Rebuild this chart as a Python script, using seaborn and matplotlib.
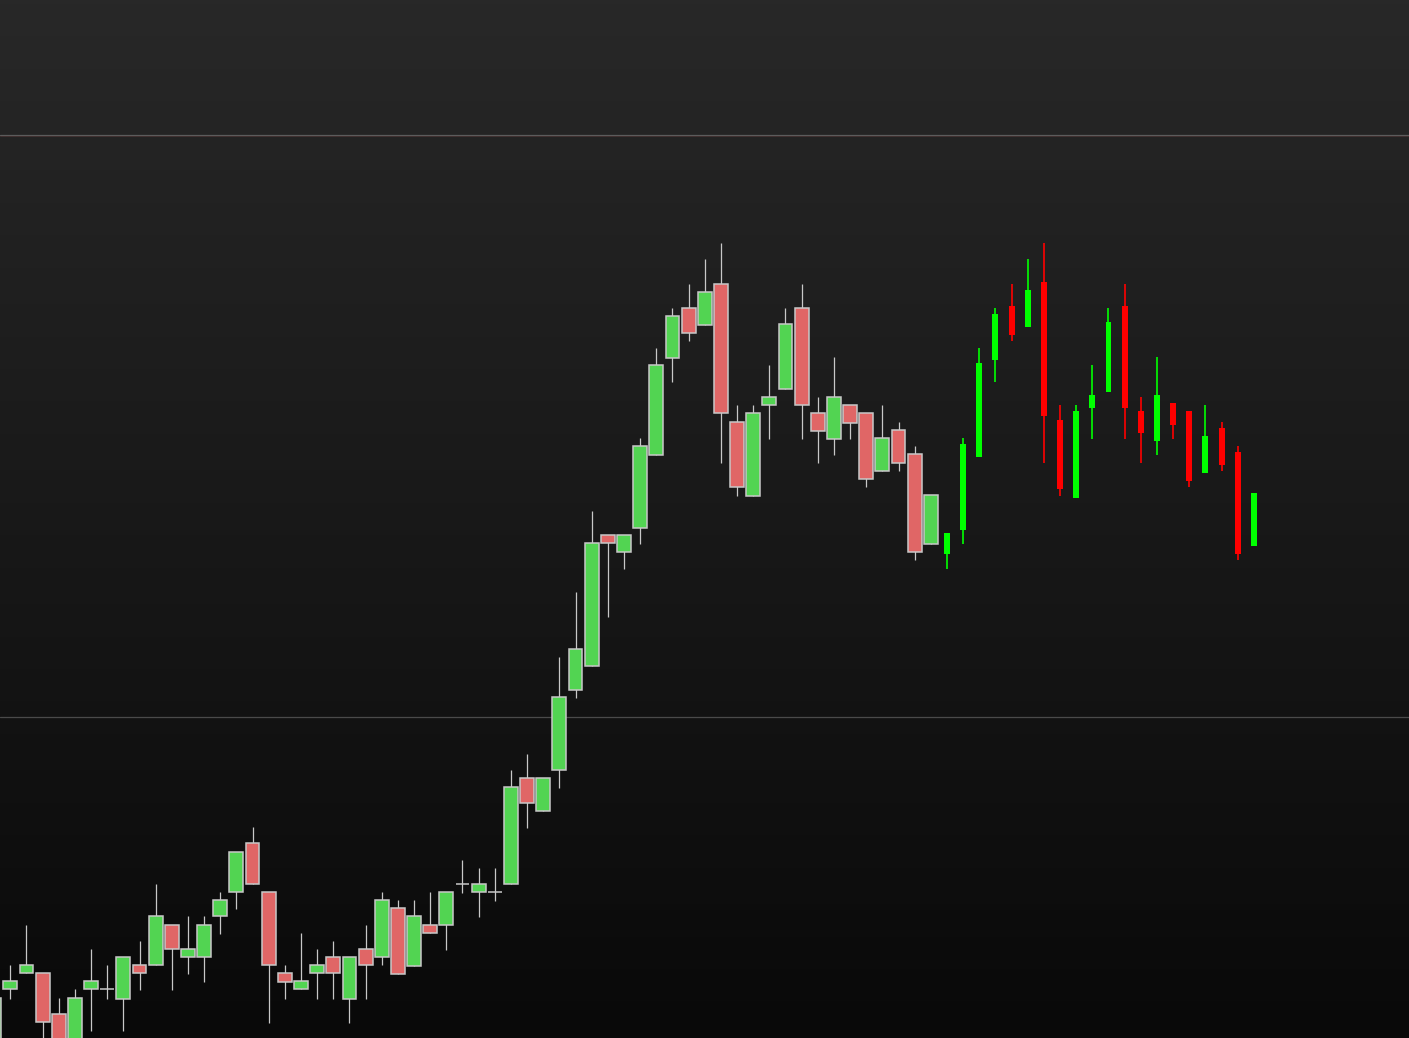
import numpy as np
import pandas as pd
import matplotlib
matplotlib.use("Agg")
import matplotlib.pyplot as plt
import seaborn as sns

# --- Datos (precio en unidades arbitrarias) ---
# velas "históricas" (colores apagados con borde gris)
abre_hist = [-7, 49, 65, 65, 24, -7, 49, 49, 39, 73, 73, 113, 81, 81, 122, 146, 195, 146, 65, 49,
             65, 81, 39, 89, 81, 130, 72, 113, 113, 154, 146, 146, 154, 260, 227, 268, 348, 372, 503, 486,
             510, 583, 680, 730, 713, 754, 616, 542, 633, 649, 730, 625, 599, 633, 625, 567, 608, 584, 494]
alto_hist = [40, 73, 113, 65, 40, 49, 89, 73, 81, 97, 154, 113, 122, 122, 146, 186, 211, 146, 73, 105,
             89, 97, 81, 113, 146, 138, 138, 146, 146, 178, 170, 170, 268, 284, 260, 381, 446, 527, 503, 503,
             600, 690, 730, 754, 779, 795, 633, 633, 673, 730, 754, 641, 681, 633, 625, 633, 616, 592, 543]
bajo_hist = [-12, 39, 65, -7, -12, -12, 7, 39, 7, 48, 73, 48, 64, 56, 104, 129, 154, 15, 39, 49,
             39, 39, 15, 39, 73, 64, 72, 105, 88, 145, 121, 137, 154, 210, 227, 250, 340, 372, 421, 469,
             494, 583, 656, 697, 713, 575, 542, 542, 599, 649, 599, 575, 583, 599, 551, 567, 567, 478, 494]
cierre_hist = [40, 57, 73, 16, -7, 40, 57, 49, 81, 65, 122, 89, 89, 113, 138, 186, 154, 73, 56, 57,
               73, 65, 81, 73, 138, 64, 122, 105, 146, 154, 154, 146, 251, 235, 260, 341, 389, 495, 495, 503,
               592, 673, 722, 705, 746, 625, 551, 625, 641, 714, 633, 607, 641, 615, 559, 600, 575, 486, 543]

# velas "recientes" (colores vivos, más finas)
abre_rec = [484, 508, 581, 678, 732, 711, 756, 618, 540, 630, 646, 732, 627, 597, 635, 627, 565, 610, 586, 492]
alto_rec = [505, 600, 690, 730, 754, 779, 795, 633, 633, 673, 730, 754, 641, 681, 635, 627, 633, 616, 592, 545]
bajo_rec = [469, 494, 581, 656, 697, 711, 575, 542, 540, 599, 646, 599, 575, 583, 599, 551, 565, 567, 478, 492]
cierre_rec = [505, 594, 675, 724, 703, 748, 622, 549, 627, 643, 716, 630, 605, 643, 613, 557, 602, 573, 484, 545]

lineas_guia = [903, 321]

# --- Armado de tablas ---
hist = pd.DataFrame({'Abre': abre_hist, 'Alto': alto_hist, 'Bajo': bajo_hist, 'Cierre': cierre_hist})
hist['idx'] = np.arange(len(hist)) - 1
rec = pd.DataFrame({'Abre': abre_rec, 'Alto': alto_rec, 'Bajo': bajo_rec, 'Cierre': cierre_rec})
rec['idx'] = np.arange(len(rec)) + len(hist) - 1

# --- Estilo ---
sns.set_theme(style="dark", rc={'axes.facecolor': '#141414', 'figure.facecolor': '#141414'})

fig = plt.figure(figsize=(14.09, 10.38), dpi=100)
ax = fig.add_axes([0, 0, 1, 1])

# fondo degradado
x0, x1 = -10.3 / 16.15, (1409 - 10.3) / 16.15
y0, y1 = 0, 1038
grad = np.linspace(0, 1, 256).reshape(-1, 1)
cmap = matplotlib.colors.LinearSegmentedColormap.from_list('fondo', ['#282828', '#090909'])
ax.imshow(grad, cmap=cmap, aspect='auto', extent=[x0, x1, y0, y1], origin='upper', zorder=0)

# líneas horizontales
ax.axhline(lineas_guia[0], color='#5c5c5c', lw=0.9, zorder=1)
ax.axhline(lineas_guia[0] - 1, color='#4a3434', lw=0.5, zorder=1)
ax.axhline(lineas_guia[1], color='#4a4a4a', lw=0.9, zorder=1)

# velas históricas
sube = hist['Cierre'] >= hist['Abre']
ax.vlines(hist['idx'], hist['Bajo'], hist['Alto'], color='#c8c8c8', lw=0.9, zorder=2)
ax.bar(hist['idx'], hist['Cierre'] - hist['Abre'], bottom=hist['Abre'], width=0.86,
       color=np.where(sube, '#52d452', '#e06666'), edgecolor='#c8c8c8', linewidth=1.1, zorder=3)

# velas recientes
sube_r = rec['Cierre'] >= rec['Abre']
colores_r = np.where(sube_r, '#00ff00', '#ff0000')
ax.vlines(rec['idx'], rec['Bajo'], rec['Alto'], color=colores_r, lw=1.2, zorder=2)
ax.bar(rec['idx'], rec['Cierre'] - rec['Abre'], bottom=rec['Abre'], width=0.37,
       color=colores_r, linewidth=0, zorder=3)

ax.set_xlim(x0, x1)
ax.set_ylim(y0, y1)
ax.axis('off')

plt.savefig('out.png', dpi=100)
